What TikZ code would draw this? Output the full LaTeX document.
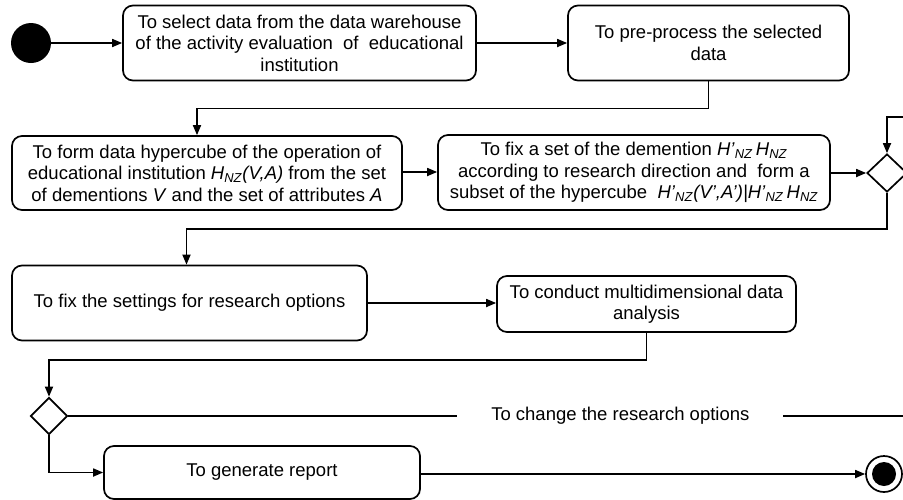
\documentclass[tikz,border=0pt]{standalone}
\usepackage{fontspec}
\setmainfont{Liberation Sans}
\usetikzlibrary{arrows.meta,shapes.geometric}

\newcommand{\Hs}[2]{\textit{#1}\textsubscript{\textit{#2}}}

\begin{document}
\begin{tikzpicture}[x=1pt, y=-1pt,
  font=\fontsize{18.5}{21.5}\selectfont,
  act/.style={draw, line width=1.7pt, rounded corners=10pt, align=center, inner sep=2pt},
  choice/.style={draw, diamond, line width=1.7pt, inner sep=0pt, aspect=1},
  flow/.style={line width=1.7pt, -{Triangle[length=10pt,width=8pt]}}]

  \useasboundingbox (0,0) rectangle (903,499);
  \clip (0,0) rectangle (903,499);

  % first row
  \node[circle, fill, minimum size=40pt, inner sep=0pt] (start) at (31,43) {};
  \node[act, minimum width=353pt, minimum height=75pt] (select) at (299.5,43)
    {To select data from the data warehouse\\ of the activity evaluation\ \ of\ \ educational\\ institution};
  \node[act, minimum width=281pt, minimum height=75pt] (prep) at (708.5,43)
    {To pre-process the selected\\ data};

  % second row
  \node[act, minimum width=390pt, minimum height=74pt] (cube) at (207,173)
    {To form data hypercube of the operation of\\
     educational institution \Hs{H}{NZ}\textit{(V,A)} from the set\\
     of dementions \textit{V} and the set of attributes \textit{A}};
  \node[act, minimum width=392pt, minimum height=75pt] (fixdim) at (634,172.5)
    {To fix a set of the demention \Hs{H'}{NZ}\,\Hs{H}{NZ}\\
     according to research direction and\ \ form a\\
     subset of the hypercube\ \ \Hs{H'}{NZ}\textit{(V',A')|}\Hs{H'}{NZ}\,\Hs{H}{NZ}};
  \node[choice, minimum width=40pt, minimum height=38pt] (dec1) at (887,173) {};

  % third row
  \node[act, minimum width=355pt, minimum height=75pt] (settings) at (189.5,303)
    {To fix the settings for research options};
  \node[act, minimum width=299pt, minimum height=56pt] (analysis) at (646.5,304)
    {To conduct multidimensional data\\ analysis};

  % last row
  \node[choice, minimum width=37pt, minimum height=37pt] (dec2) at (49,416) {};
  \node[act, minimum width=316pt, minimum height=53pt] (report) at (262,472.5)
    {To generate report};
  \node[circle, draw, line width=1.7pt, minimum size=36pt, inner sep=0pt] (stop) at (884,474) {};
  \node[circle, fill, minimum size=24pt, inner sep=0pt] (stopin) at (stop) {};

  \coordinate (loopR) at (915,416);
  \coordinate (loopT) at (915,117);

  \draw[flow] (start) -- (start -| select.west);
  \draw[flow] (select) -- (prep);
  \draw[flow] (prep.south) -- ++(0,27) -| ([xshift=-10pt]cube.north);
  \draw[flow] (cube.east |- 0,172) -- (fixdim.west |- 0,172);
  \draw[flow] (fixdim.east |- dec1) -- (dec1.west);
  \draw[flow] (dec1.south) -- ++(0,36) -| ([xshift=-3pt]settings.north);
  \draw[flow] (settings) -- (settings -| analysis.west);
  \draw[flow] (analysis.south) -- ++(0,27) -| (dec2.north);
  \draw[flow] (dec2.south) |- (report.west);
  \draw[flow] (report.east |- stop) -- (stop.west);
  \draw[flow] (dec2.east) -- node[pos=0.652, fill=white, inner xsep=34pt]
    {To change the research options} (loopR) -- (loopT) -| (dec1.north);

\end{tikzpicture}
\end{document}
